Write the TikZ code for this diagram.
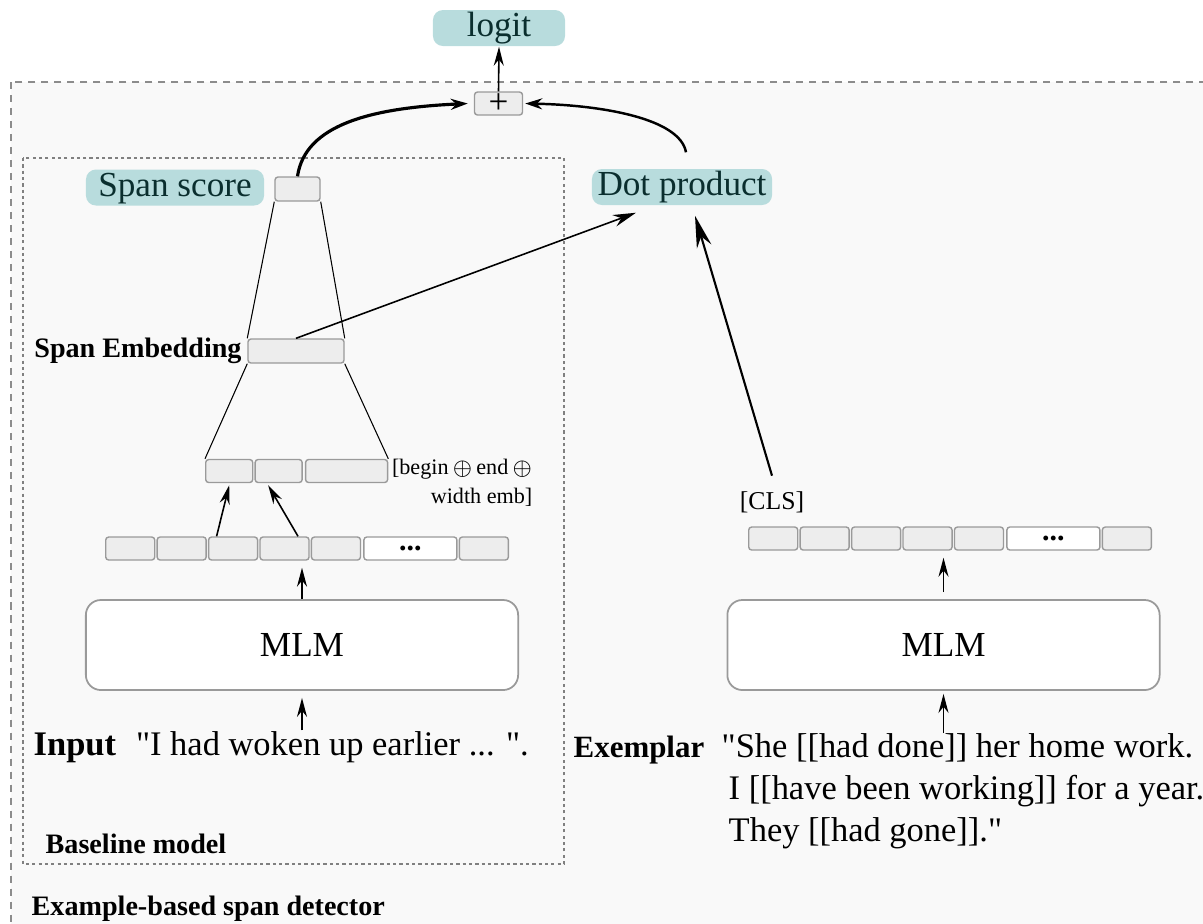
\documentclass[tikz,border=0pt]{standalone}
\usepackage{fontspec}
\setmainfont{Liberation Serif}[Ligatures=TeXOff]
\usepackage{amsmath}
\usetikzlibrary{arrows, arrows.meta, positioning}

\definecolor{tealfill}{HTML}{B8DCDD}
\definecolor{tealtext}{HTML}{0A2E2E}
\definecolor{cellfill}{HTML}{EDEDED}
\definecolor{cellline}{HTML}{9A9A9A}
\definecolor{bgfill}{HTML}{F9F9F9}

\begin{document}
\begin{tikzpicture}[x=0.01cm, y=-0.01cm,
		cell/.style={rectangle, draw=cellline, fill=cellfill, rounded corners=0.03cm, line width=0.4pt, minimum width=0.49cm, minimum height=0.23cm, inner sep=0},
		dotcell/.style={cell, fill=white, minimum width=0.93cm, font=\bfseries\fontsize{8.5}{8.5}\selectfont},
		tealbox/.style={rectangle, fill=tealfill, text=tealtext, rounded corners=0.1cm, minimum height=0.36cm, inner sep=0, text height=0.7em, text depth=0.2em, font=\fontsize{10}{10}\selectfont},
		mlmbox/.style={rectangle, draw=cellline, fill=white, rounded corners=0.15cm, line width=0.5pt, minimum width=4.32cm, minimum height=0.9cm, font=\fontsize{10}{12}\selectfont},
		arr/.style={-{Stealth[length=0.19cm, width=0.1cm]}, line width=0.45pt},
		lbl/.style={font=\bfseries\fontsize{8}{8}\selectfont, inner sep=0}]
		
		\useasboundingbox (0,0) rectangle (1203,923);
		\clip (0,0) rectangle (1203,923);
		
		% frames
		\draw[dash pattern=on 2pt off 1.7pt, draw=gray!90, fill=bgfill] (11,82) rectangle (1240,960);
		\draw[dash pattern=on 0.9pt off 0.9pt, draw=gray, fill=bgfill] (23,158) rectangle (564,864);
		
		% top
		\node[tealbox, minimum width=1.32cm] (logit) at (499,28) {logit};
		\node[cell, minimum width=0.48cm, font=\fontsize{10}{10}\selectfont] (plus) at (498.5,103.5) {+};
		
		% baseline model
		\node[tealbox, minimum width=1.78cm] (sslab) at (175,187.5) {Span score};
		\node[cell, minimum width=0.45cm, minimum height=0.24cm] (score) at (297.5,189) {};
		\node[cell, minimum width=0.96cm, minimum height=0.24cm] (emb) at (296,351) {};
		\node[lbl, left=0.05cm of emb] (emblab) {Span Embedding};
		
		\node[cell, minimum width=0.47cm, anchor=west] (cat1) at (205,471) {};
		\node[cell, minimum width=0.47cm, right=0.01cm of cat1] (cat2) {};
		\node[cell, minimum width=0.82cm, right=0.02cm of cat2] (cat3) {};
		\node[font=\fontsize{6.3}{8.2}\selectfont, align=right, inner sep=0, right=0.03cm of cat3.north east, anchor=north west] (catlab) {[begin\,$\oplus$\,end\,$\oplus$\\ width emb]};
		
		\node[cell, anchor=west] (tokL1) at (105,548.5) {};
		\node[cell, right=0.01cm of tokL1] (tokL2) {};
		\node[cell, right=0.01cm of tokL2] (tokL3) {};
		\node[cell, right=0.01cm of tokL3] (tokL4) {};
		\node[cell, right=0.01cm of tokL4] (tokL5) {};
		\node[dotcell, right=0.02cm of tokL5] (tokL6) {...};
		\node[cell, right=0.01cm of tokL6] (tokL7) {};
		
		\node[mlmbox] (mlmL) at (302,645) {MLM};
		\node[anchor=base west, inner sep=0, font=\fontsize{9.8}{9.8}\selectfont] (inp) at (33,755) {\textbf{Input}\hspace{0.58em}"I had woken up earlier ... ".};
		\node[lbl, anchor=base west] (baselab) at (45,853) {Baseline model};
		\node[lbl, anchor=base west] (detlab) at (31,915) {Example-based span detector};
		
		% exemplar side
		\node[tealbox, minimum width=1.80cm] (dot) at (682,187) {Dot product};
		\node[font=\fontsize{7.3}{7.3}\selectfont, inner sep=0] (cls) at (772,502) {[CLS]};
		
		\node[cell, anchor=west] (tokR1) at (748,538.5) {};
		\node[cell, right=0.01cm of tokR1] (tokR2) {};
		\node[cell, right=0.01cm of tokR2] (tokR3) {};
		\node[cell, right=0.01cm of tokR3] (tokR4) {};
		\node[cell, right=0.01cm of tokR4] (tokR5) {};
		\node[dotcell, right=0.02cm of tokR5] (tokR6) {...};
		\node[cell, right=0.01cm of tokR6] (tokR7) {};
		
		\node[mlmbox] (mlmR) at (943.5,645) {MLM};
		\node[font=\bfseries\fontsize{8.8}{8.8}\selectfont, anchor=base east, inner sep=0] (exemlab) at (705,757) {Exemplar};
		\node[font=\fontsize{9.8}{11.95}\selectfont, align=left, anchor=north west, inner sep=0] (exem) at (728,733) {\hspace*{-0.07cm}"She [[had done]] her home work.\\ I [[have been working]] for a year.\\ They [[had gone]]."};
		
		% funnel
		\draw[line width=0.3pt] (score.south west) -- (emb.north west);
		\draw[line width=0.3pt] (score.south east) -- (emb.north east);
		\draw[line width=0.3pt] (emb.south west) -- (cat1.north west);
		\draw[line width=0.3pt] (emb.south east) -- (cat3.north east);
		
		% arrows
		\draw[arr] (plus.north) -- (logit.south);
		\draw[arr, line width=0.9pt, -{Stealth[length=0.17cm, width=0.11cm]}] (score.north) .. controls (305,125) and (370,108) .. ([xshift=-0.06cm]plus.west);
		\draw[arr, line width=0.7pt, -{Stealth[length=0.17cm, width=0.11cm]}] ([xshift=0.04cm, yshift=0.16cm]dot.north) .. controls (680,118) and (600,105) .. ([xshift=0.02cm]plus.east);
		\draw[arr, -{Stealth[length=0.23cm, width=0.12cm]}] (emb.north) -- ([xshift=-0.46cm, yshift=-0.07cm]dot.south);
		\draw[arr, line width=0.6pt, -{Stealth[length=0.32cm, width=0.15cm]}] ([yshift=0.15cm]cls.north) -- ([xshift=0.13cm, yshift=-0.1cm]dot.south);
		
		\draw[arr] ([xshift=-0.165cm]tokL3.north) -- ([yshift=-0.02cm]cat1.south);
		\draw[arr] ([xshift=0.135cm]tokL4.north) -- ([xshift=-0.105cm, yshift=-0.02cm]cat2.south);
		\draw[arr, shorten >=0.07cm] (mlmL.north) -- (mlmL.north |- tokL4.south);
		\draw[arr, shorten >=0.07cm] (mlmL.south |- inp.north) -- (mlmL.south);
		
		\draw[arr, shorten >=0.07cm] ([yshift=0.07cm]mlmR.north) -- (mlmR.north |- tokR4.south);
		\draw[arr, shorten >=0.03cm] (mlmR.south |- exem.north) -- (mlmR.south);
		
	\end{tikzpicture}
\end{document}
